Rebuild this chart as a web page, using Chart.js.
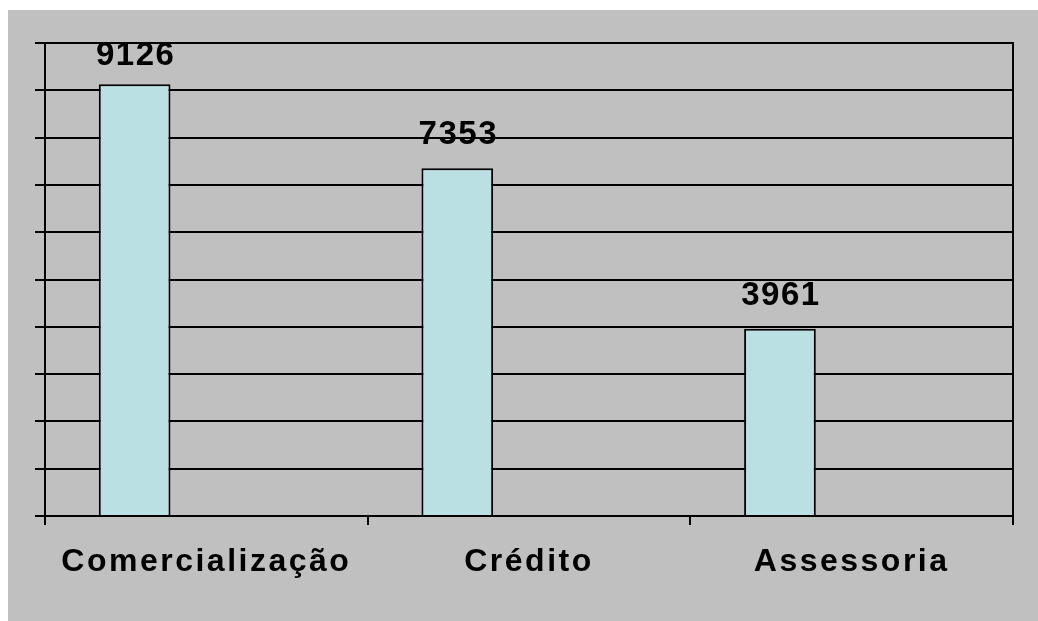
<!DOCTYPE html>
<html lang="pt">
<head>
<meta charset="utf-8">
<title>Gráfico</title>
<script src="https://cdn.jsdelivr.net/npm/chart.js@4.4.1/dist/chart.umd.min.js"></script>
<style>
    body { margin: 0; background: #fff; }
    #fundo { position: absolute; left: 8px; top: 10px; width: 1030px; height: 611px; background: #c0c0c0; }
</style>
</head>
<body>
<div id="fundo"><canvas id="grafico" width="1030" height="611"></canvas></div>
<script>
const categorias = ['Comercialização', 'Crédito', 'Assessoria'];
const valores = [9126, 7353, 3961];
// series vazias do grafico original (ocupam espaço na categoria)
const serie2 = [null, null, null];
const serie3 = [null, null, null];
const escalaMin = 0;
const escalaMax = 10000;
const escalaPasso = 1000;

const fonte = "'Liberation Sans', Arial, sans-serif";

const rotulosValores = {
    id: 'rotulosValores',
    beforeDraw(chart) {
        chart.ctx.letterSpacing = '2.5px';
    },
    afterDatasetsDraw(chart) {
        const ctx = chart.ctx;
        const area = chart.chartArea;
        ctx.save();
        ctx.letterSpacing = '1.5px';
        ctx.font = 'bold 33px ' + fonte;
        ctx.fillStyle = '#000';
        ctx.textAlign = 'center';
        ctx.textBaseline = 'alphabetic';
        chart.getDatasetMeta(0).data.forEach((barra, i) => {
            const y = Math.max(barra.y - 24, area.top + 22);
            ctx.fillText(String(valores[i]), barra.x + 1, y);
        });
        ctx.restore();
    }
};

new Chart(document.getElementById('grafico'), {
    type: 'bar',
    data: {
        labels: categorias,
        datasets: [
            { label: 'Série 1', data: valores, backgroundColor: '#bbe0e3', borderColor: '#000', borderWidth: 2 },
            { label: 'Série 2', data: serie2 },
            { label: 'Série 3', data: serie3 }
        ]
    },
    options: {
        responsive: false,
        animation: false,
        events: [],
        categoryPercentage: 3 / 4.5,
        barPercentage: 1,
        layout: { padding: { top: 33, left: 0, right: 0, bottom: 0 } },
        plugins: { legend: { display: false }, tooltip: { enabled: false } },
        scales: {
            x: {
                grid: { offset: true, drawOnChartArea: false, drawTicks: true, tickLength: 9, color: '#000', lineWidth: 2 },
                border: { display: true, color: '#000', width: 2 },
                ticks: { color: '#000', padding: 18, font: { family: fonte, size: 32, weight: 'bold' }, maxRotation: 0 },
                afterFit: (s) => { s.height = 105; }
            },
            y: {
                min: escalaMin,
                max: escalaMax,
                ticks: { stepSize: escalaPasso, display: false },
                grid: { color: '#000', lineWidth: 2, tickLength: 10 },
                border: { display: true, color: '#000', width: 2 },
                afterFit: (s) => { s.width = 37; }
            },
            y2: {
                position: 'right',
                min: escalaMin,
                max: escalaMax,
                ticks: { display: false },
                grid: { drawOnChartArea: false, drawTicks: false },
                border: { display: true, color: '#000', width: 2 },
                afterFit: (s) => { s.width = 25; }
            }
        }
    },
    plugins: [rotulosValores]
});
</script>
</body>
</html>
